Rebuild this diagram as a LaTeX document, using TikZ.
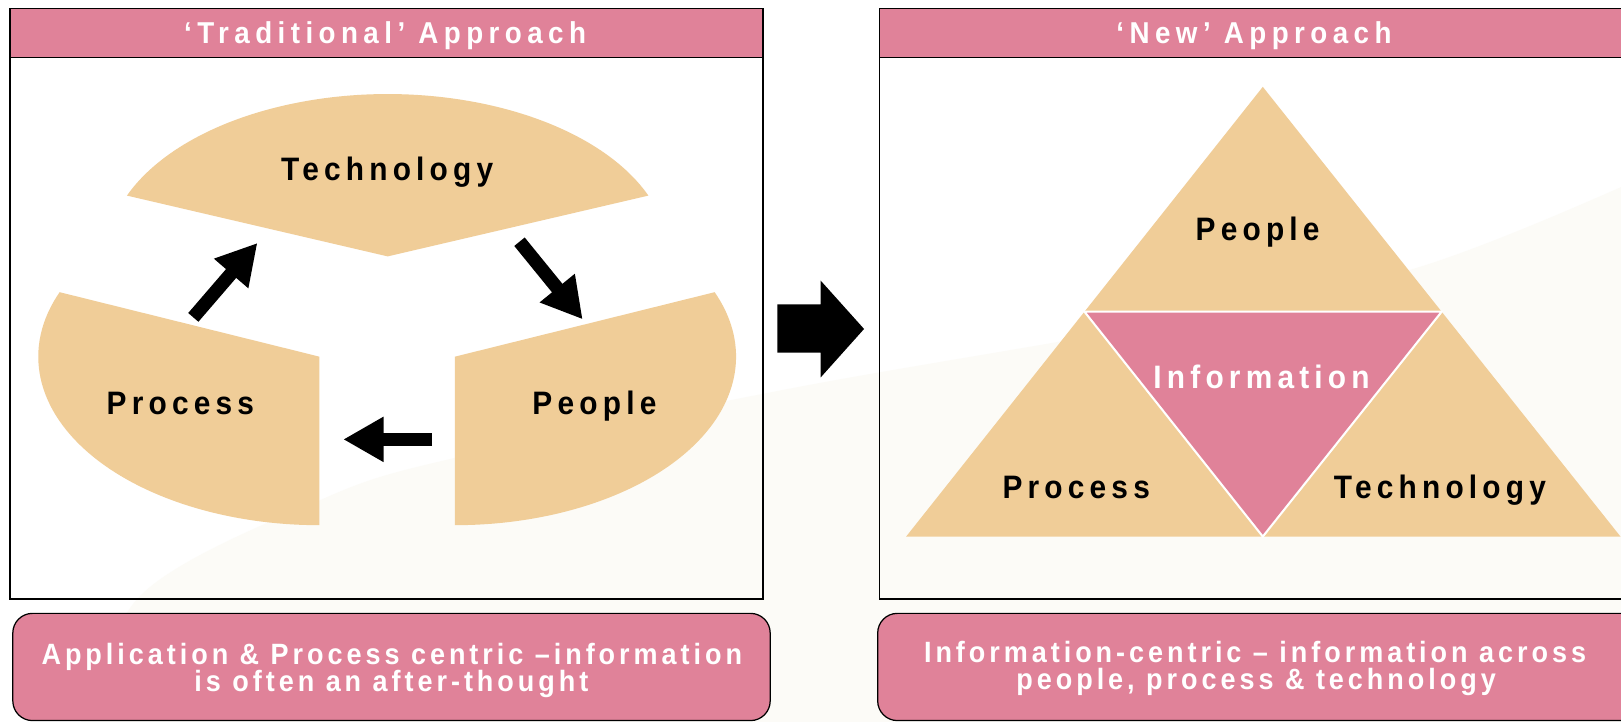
\documentclass[tikz,border=0pt]{standalone}
\usepackage{fontspec}
\setmainfont{Liberation Sans}
\newfontfamily\hdrfont[FakeStretch=0.92,LetterSpace=18]{Liberation Sans}
\newfontfamily\lblfont[FakeStretch=0.92,LetterSpace=16]{Liberation Sans}
\newfontfamily\ftrfont[FakeStretch=0.92,LetterSpace=13.5]{Liberation Sans}
\usetikzlibrary{arrows.meta}
\definecolor{rosepink}{RGB}{224,130,153}
\definecolor{tanfill}{RGB}{240,205,152}
\definecolor{creambg}{RGB}{252,251,247}
\tikzset{
 hdr/.style={font=\hdrfont\bfseries\fontsize{14.6}{16}\selectfont, text=white, anchor=base, inner sep=0pt},
 lbl/.style={font=\lblfont\bfseries\fontsize{15.7}{18}\selectfont, text=black, anchor=base, inner sep=0pt},
 lblw/.style={lbl, text=white},
 ftr/.style={font=\ftrfont\bfseries\fontsize{14.2}{14}\selectfont, text=white, anchor=base, inner sep=0pt},
 panel/.style={draw=black, line width=0.8pt},
 headbar/.style={fill=rosepink, draw=black, line width=0.8pt},
 slice/.style={fill=tanfill},
 flowarrow/.style={line width=6.5pt, -{Triangle[width=20.5pt,length=19.5pt]}},
 capbox/.style={fill=rosepink, draw=black, line width=0.6pt, rounded corners=9.5pt},
}
\begin{document}
\begin{tikzpicture}[x=0.5pt,y=0.5pt]
\clip (0,0) rectangle (1568,-698);
\fill[white] (0,0) rectangle (1568,-698);
% faint background swoosh
\fill[creambg] plot[smooth] coordinates {(60,-760) (133,-579) (316,-481) (444,-442) (774,-374) (1100,-317) (1364,-261) (1568,-181) (1640,-140)}
  -- (1640,-760) -- cycle;

% ---------- left panel ----------
\draw[panel] (9.7,-8.1) rectangle (737.8,-579.7);
\draw[headbar] (9.7,-8.1) rectangle (737.8,-55.5);
\node[hdr] (hdrL) at (372.5,-42) {‘Traditional’ Approach};

\coordinate (vTech) at (375,-248);
\coordinate (vProc) at (309,-345);
\coordinate (vPeop) at (440,-345);
\fill[slice] (vTech) -- ++(22:272 and 157) arc[start angle=22,end angle=158,x radius=272,y radius=157] -- cycle;
\fill[slice] (vProc) -- ++(157.5:272 and 163) arc[start angle=157.5,end angle=270,x radius=272,y radius=163] -- cycle;
\fill[slice] (vPeop) -- ++(-90:272 and 163) arc[start angle=-90,end angle=22.5,x radius=272,y radius=163] -- cycle;

\node[lbl] (techL) at (374.5,-174.5) {Technology};
\node[lbl] (procL) at (174.5,-401.4) {Process};
\node[lbl] (peopL) at (575,-401.4) {People};

\coordinate (a1s) at (187,-307);
\coordinate (a1e) at (249,-235);
\coordinate (a2s) at (502.5,-233.8);
\coordinate (a2e) at (563.6,-308.9);
\coordinate (a3s) at (418,-425);
\coordinate (a3e) at (332,-425);
\draw[flowarrow] (a1s) -- (a1e);
\draw[flowarrow] (a2s) -- (a2e);
\draw[flowarrow] (a3s) -- (a3e);

% ---------- transition arrow ----------
\fill[black] (752,-294.4) -- (793.9,-294.4) -- (793.9,-271.5) -- (835.8,-318.2)
  -- (793.9,-365) -- (793.9,-341.2) -- (752,-341.2) -- cycle;

% ---------- right panel ----------
\draw[panel] (850.6,-8.1) rectangle (1600,-579.7);
\draw[headbar] (850.6,-8.1) rectangle (1600,-55.5);
\node[hdr] (hdrR) at (1213,-42) {‘New’ Approach};

\coordinate (tApex) at (1221.5,-84);
\coordinate (tML) at (1049,-301.5);
\coordinate (tMR) at (1394.5,-301.5);
\coordinate (tBL) at (876.5,-519);
\coordinate (tBM) at (1221.5,-519);
\coordinate (tBR) at (1567.5,-519);
\fill[slice] (tApex) -- (tML) -- (tMR) -- cycle;
\fill[slice] (tML) -- (tBL) -- (tBM) -- cycle;
\fill[slice] (tMR) -- (tBM) -- (tBR) -- cycle;
\filldraw[fill=rosepink, draw=white, line width=1pt, line join=miter] (tML) -- (tMR) -- (tBM) -- cycle;

\node[lbl] (peopR) at (1216.5,-232.5) {People};
\node[lblw] (infoR) at (1220.3,-375.6) {Information};
\node[lbl] (procR) at (1041,-482) {Process};
\node[lbl] (techR) at (1392.8,-482) {Technology};

% ---------- caption boxes ----------
\draw[capbox] (12.4,-593.3) rectangle (745,-697);
\node[ftr] (capL1) at (379,-642.3) {Application \& Process centric –information};
\node[ftr] (capL2) at (378.6,-669.1) {is often an after-thought};
\draw[capbox] (849,-593.3) rectangle (1620,-697);
\node[ftr] (capR1) at (1214,-641) {Information-centric – information across};
\node[ftr] (capR2) at (1215,-667.4) {people, process \& technology};
\end{tikzpicture}
\end{document}
